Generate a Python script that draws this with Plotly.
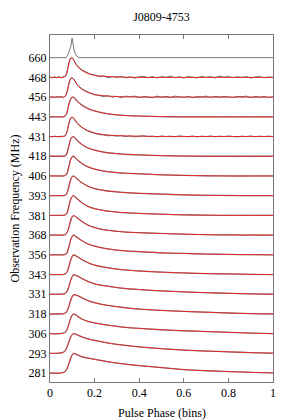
import plotly.graph_objects as go

# ---------------- data ----------------
FREQ_LABELS = ["281", "293", "306", "318", "331", "343", "356", "368", "381",
               "393", "406", "418", "431", "443", "456", "468", "660"]

PHASE = [0.0, 0.04, 0.055, 0.065, 0.075, 0.085, 0.095, 0.105, 0.12, 0.14, 0.17,
         0.2, 0.25, 0.3, 0.35, 0.4, 0.5, 0.6, 0.7, 0.8, 0.9, 1.0]

# fitted (red) profiles, normalised
FIT = {
    "468": [0, 0, 0, 0.02, 0.2, 0.75, 1.0, 0.9, 0.6, 0.38, 0.2, 0.1, 0.05, 0.02, 0.01, 0, 0, 0, 0, 0, 0, 0],
    "456": [0, 0, 0, 0.02, 0.2, 0.72, 0.98, 0.92, 0.65, 0.42, 0.24, 0.13, 0.06, 0.03, 0.01, 0, 0, 0, 0, 0, 0, 0],
    "443": [0, 0, 0, 0.02, 0.18, 0.65, 0.95, 1.0, 0.82, 0.62, 0.42, 0.3, 0.17, 0.1, 0.06, 0.04, 0.01, 0, 0, 0, 0, 0],
    "431": [0, 0, 0, 0.02, 0.18, 0.7, 0.97, 0.95, 0.72, 0.5, 0.3, 0.18, 0.09, 0.05, 0.03, 0.02, 0, 0, 0, 0, 0, 0],
    "418": [0, 0, 0, 0.01, 0.12, 0.55, 0.92, 1.0, 0.82, 0.62, 0.42, 0.31, 0.19, 0.13, 0.09, 0.07, 0.03, 0.01, 0, 0, 0, 0],
    "406": [0, 0, 0, 0.01, 0.1, 0.5, 0.9, 1.0, 0.85, 0.66, 0.46, 0.35, 0.23, 0.17, 0.13, 0.11, 0.06, 0.03, 0.01, 0, 0, 0],
    "393": [0, 0, 0, 0.01, 0.1, 0.48, 0.88, 1.0, 0.87, 0.68, 0.48, 0.36, 0.25, 0.19, 0.15, 0.12, 0.08, 0.04, 0.02, 0.01, 0, 0],
    "381": [0, 0, 0, 0.01, 0.1, 0.48, 0.88, 1.0, 0.86, 0.67, 0.46, 0.34, 0.23, 0.17, 0.13, 0.1, 0.06, 0.03, 0.01, 0, 0, 0],
    "368": [0, 0, 0, 0.01, 0.08, 0.44, 0.85, 1.0, 0.88, 0.7, 0.5, 0.38, 0.26, 0.19, 0.15, 0.12, 0.08, 0.05, 0.02, 0.01, 0, 0],
    "356": [0, 0, 0, 0.01, 0.08, 0.42, 0.83, 1.0, 0.9, 0.74, 0.55, 0.44, 0.32, 0.24, 0.19, 0.16, 0.1, 0.07, 0.04, 0.02, 0.01, 0],
    "343": [0, 0, 0, 0.02, 0.1, 0.42, 0.8, 1.0, 0.92, 0.78, 0.6, 0.48, 0.36, 0.28, 0.22, 0.18, 0.12, 0.08, 0.05, 0.03, 0.01, 0],
    "331": [0, 0, 0.01, 0.03, 0.12, 0.42, 0.78, 0.98, 0.94, 0.82, 0.65, 0.53, 0.42, 0.34, 0.28, 0.24, 0.17, 0.12, 0.08, 0.05, 0.02, 0],
    "318": [0, 0, 0.01, 0.03, 0.12, 0.4, 0.76, 0.97, 0.95, 0.84, 0.68, 0.57, 0.45, 0.37, 0.3, 0.25, 0.18, 0.13, 0.09, 0.05, 0.02, 0],
    "306": [0, 0, 0.02, 0.05, 0.18, 0.5, 0.85, 1.0, 0.92, 0.76, 0.63, 0.55, 0.45, 0.37, 0.31, 0.27, 0.2, 0.15, 0.11, 0.07, 0.03, 0],
    "293": [0, 0.01, 0.04, 0.1, 0.28, 0.6, 0.88, 1.0, 0.95, 0.85, 0.74, 0.66, 0.55, 0.46, 0.39, 0.33, 0.24, 0.17, 0.12, 0.08, 0.04, 0.01],
    "281": [0, 0, 0.02, 0.06, 0.2, 0.5, 0.82, 1.0, 0.94, 0.84, 0.76, 0.7, 0.6, 0.51, 0.44, 0.38, 0.28, 0.18, 0.12, 0.08, 0.04, 0.01],
}

# reference 660 MHz profile (grey, no fit)
REF_PHASE = [0.0, 0.072, 0.08, 0.087, 0.093, 0.099, 0.104, 0.109, 0.118, 0.13, 1.0]
REF_VALUES = [0, 0, 0.15, 0.35, 0.55, 1.0, 0.6, 0.33, 0.1, 0, 0]

# noisy observed profiles (black)
NOISY_PHASE = [0.0, 0.01, 0.02, 0.03, 0.04, 0.05, 0.06, 0.07, 0.08, 0.09, 0.1, 0.11, 0.12,
               0.14, 0.16, 0.18, 0.2, 0.22, 0.24, 0.26, 0.28, 0.3, 0.32, 0.34, 0.36, 0.38,
               0.4, 0.42, 0.44, 0.46, 0.48, 0.5, 0.52, 0.54, 0.56, 0.58, 0.6, 0.62, 0.64,
               0.66, 0.68, 0.7, 0.72, 0.74, 0.76, 0.78, 0.8, 0.82, 0.84, 0.86, 0.88, 0.9,
               0.92, 0.94, 0.96, 0.98, 1.0]
OBS = {
    "468": [0.02, -0.03, 0.04, -0.02, 0.04, -0.02, 0.03, 0.06, 0.45, 0.95, 1.0, 0.82, 0.62,
            0.4, 0.28, 0.17, 0.12, 0.04, 0.08, -0.02, 0.04, 0.01, 0.05, -0.03, 0.03, -0.04,
            0.03, 0.05, -0.02, 0.04, -0.03, 0.04, 0.0, 0.06, -0.02, 0.03, -0.03, 0.04, 0.01,
            -0.03, 0.05, 0.0, 0.04, -0.03, 0.07, 0.01, 0.04, -0.02, 0.03, 0.0, 0.04, -0.03,
            0.02, 0.04, -0.02, 0.02, 0.0],
    "456": [-0.02, 0.03, -0.03, 0.04, 0.0, 0.04, -0.02, 0.05, 0.42, 0.9, 0.98, 0.86, 0.66,
            0.45, 0.31, 0.2, 0.12, 0.08, 0.03, 0.07, 0.0, 0.04, -0.03, 0.05, 0.02, 0.05,
            -0.02, 0.04, 0.01, -0.03, 0.05, 0.0, 0.04, -0.02, 0.05, 0.02, -0.01, 0.04, -0.03,
            0.03, 0.01, 0.05, -0.01, 0.04, 0.0, 0.04, 0.01, -0.02, 0.04, 0.02, 0.05, -0.02,
            0.03, 0.0, 0.04, -0.02, 0.01],
    "431": [0.01, -0.02, 0.02, 0.0, -0.02, 0.02, 0.01, 0.05, 0.4, 0.9, 0.97, 0.85, 0.68,
            0.48, 0.33, 0.23, 0.16, 0.1, 0.08, 0.04, 0.05, 0.02, 0.04, 0.0, 0.03, -0.02,
            0.02, 0.04, 0.0, 0.02, -0.02, 0.03, 0.0, 0.02, -0.01, 0.03, 0.01, -0.01, 0.03,
            -0.02, 0.02, 0.0, 0.03, -0.01, 0.02, 0.0, 0.03, 0.01, -0.02, 0.02, 0.0, 0.03,
            -0.01, 0.02, 0.0, 0.02, 0.0],
    "368": [0.01, -0.01, 0.02, 0.0, 0.01, -0.01, 0.01, 0.03, 0.2, 0.6, 0.95, 0.98, 0.9,
            0.72, 0.58, 0.46, 0.38, 0.32, 0.27, 0.24, 0.2, 0.19, 0.17, 0.15, 0.14, 0.13,
            0.12, 0.11, 0.1, 0.09, 0.08, 0.08, 0.07, 0.07, 0.05, 0.06, 0.05, 0.04, 0.04,
            0.03, 0.02, 0.03, 0.02, 0.02, 0.01, 0.02, 0.01, 0.01, 0.0, 0.01, 0.0, 0.01,
            0.0, 0.0, 0.01, 0.0, 0.0],
}

TITLE = "J0809-4753"
X_TITLE = "Pulse Phase (bins)"
Y_TITLE = "Observation Frequency (MHz)"
X_TICKS = [0, 0.2, 0.4, 0.6, 0.8, 1]
X_TICKTEXT = ["0", "0.2", "0.4", "0.6", "0.8", "1"]

# ---------------- figure ----------------
FONT = "Liberation Serif"
FS = 12
BLACK = "rgba(30,30,30,0.85)"
RED = "rgb(226,40,40)"
GREY = "rgb(120,120,120)"

# the page body has an 8px margin, so the figure is sized to fit inside the window
OFF = 8
W, H = 294 - OFF, 420 - OFF
L, T = 50 - OFF, 35 - OFF
R = W - (273 - OFF)
B = H - (382 - OFF)
PW, PH = W - L - R, H - T - B

fig = go.Figure()

for i, lab in enumerate(FREQ_LABELS):
    if lab == "660":
        fig.add_trace(go.Scatter(x=REF_PHASE, y=[v + i for v in REF_VALUES], mode="lines",
                                 line=dict(color=GREY, width=1), hoverinfo="skip"))
        continue
    fit = FIT[lab]
    if lab in OBS:
        fig.add_trace(go.Scatter(x=NOISY_PHASE, y=[v + i for v in OBS[lab]], mode="lines",
                                 line=dict(color=BLACK, width=0.8), hoverinfo="skip"))
    else:
        fig.add_trace(go.Scatter(x=PHASE, y=[v + i for v in fit], mode="lines",
                                 line=dict(color="rgba(90,90,90,0.7)", width=1.3, shape="spline", smoothing=0.8),
                                 hoverinfo="skip"))
    fig.add_trace(go.Scatter(x=PHASE, y=[v + i for v in fit], mode="lines",
                             line=dict(color=RED, width=1, shape="spline", smoothing=0.8),
                             hoverinfo="skip"))

fig.update_layout(
    width=W, height=H,
    margin=dict(l=L, r=R, t=T, b=B, autoexpand=False),
    paper_bgcolor="white", plot_bgcolor="white",
    showlegend=False,
    font=dict(family=FONT, size=FS, color="black"),
    title=dict(text=TITLE, x=(L + PW / 2) / W, xanchor="center", y=1 - (17 - OFF) / H,
               yanchor="middle", yref="container",
               font=dict(family=FONT, size=FS, color="black")),
    annotations=[
        dict(text=X_TITLE, xref="paper", yref="paper", x=0.5, y=-(413 - 382) / PH,
             xanchor="center", yanchor="middle", showarrow=False,
             font=dict(family=FONT, size=FS, color="black")),
        dict(text=Y_TITLE, xref="paper", yref="paper", x=-(L - 6) / PW, y=0.5,
             xanchor="center", yanchor="middle", textangle=-90, showarrow=False,
             font=dict(family=FONT, size=FS, color="black")),
    ],
)
fig.update_xaxes(
    range=[0, 1], tickvals=X_TICKS, ticktext=X_TICKTEXT,
    ticks="inside", ticklen=4, tickcolor=GREY, showline=True, linecolor=GREY, linewidth=1,
    mirror="ticks", showgrid=False, zeroline=False, automargin=False,
    tickfont=dict(family=FONT, size=FS),
)
fig.update_yaxes(
    range=[-0.45, 17.15], tickvals=list(range(len(FREQ_LABELS))), ticktext=FREQ_LABELS,
    ticks="", showline=True, linecolor=GREY, linewidth=1, mirror=True,
    showgrid=False, zeroline=False, automargin=False,
    tickfont=dict(family=FONT, size=FS),
)

fig.write_html("out.html")
